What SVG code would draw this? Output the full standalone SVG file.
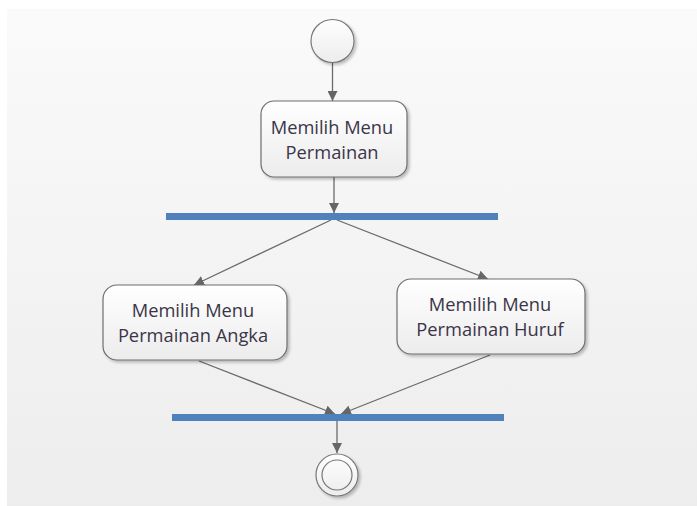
<svg xmlns="http://www.w3.org/2000/svg" width="697" height="506" viewBox="0 0 697 506">
  <defs>
    <linearGradient id="bg" x1="0" y1="0" x2="0" y2="1">
      <stop offset="0" stop-color="#fafafa"/>
      <stop offset="1" stop-color="#ededed"/>
    </linearGradient>
    <linearGradient id="nodeFill" x1="0" y1="0" x2="0" y2="1">
      <stop offset="0" stop-color="#ffffff"/>
      <stop offset="1" stop-color="#ececec"/>
    </linearGradient>
    <filter id="shadow" x="-20%" y="-20%" width="140%" height="150%">
      <feGaussianBlur in="SourceAlpha" stdDeviation="1.5"/>
      <feOffset dx="1.5" dy="2" result="b"/>
      <feComponentTransfer><feFuncA type="linear" slope="0.25"/></feComponentTransfer>
      <feMerge><feMergeNode/><feMergeNode in="SourceGraphic"/></feMerge>
    </filter>
    <marker id="arrow" viewBox="0 0 10 10" refX="10" refY="5" markerWidth="10" markerHeight="10" markerUnits="userSpaceOnUse" orient="auto">
      <path d="M0,0 L10,5 L0,10 z" fill="#666"/>
    </marker>
  </defs>
  <style>
    .action { fill: url(#nodeFill); stroke: #6e6e6e; stroke-width: 1.2; }
    .label { font-family: "Open Sans", "Liberation Sans", Arial, sans-serif; font-size: 18.3px; fill: #3b3548; text-anchor: middle; }
    .bar { fill: #4f81bd; }
    .flow { stroke: #6a6a6a; stroke-width: 1.3; fill: none; marker-end: url(#arrow); }
    .state { fill: url(#nodeFill); stroke: #777; stroke-width: 1.2; }
  </style>

  <rect x="0" y="0" width="697" height="506" fill="#ffffff"/>
  <rect x="7" y="9" width="690" height="497" fill="url(#bg)"/>

  <g id="connectors">
    <line class="flow" x1="332.5" y1="63" x2="332.5" y2="101"/>
    <line class="flow" x1="334" y1="177" x2="334" y2="213"/>
    <line class="flow" x1="331" y1="220" x2="194" y2="285"/>
    <line class="flow" x1="337" y1="220" x2="488" y2="279"/>
    <line class="flow" x1="199" y1="361" x2="335" y2="414"/>
    <line class="flow" x1="490" y1="355" x2="341" y2="414"/>
    <line class="flow" x1="337" y1="421" x2="337" y2="453"/>
  </g>

  <g id="start">
    <circle class="state" cx="332.5" cy="41" r="21.5" filter="url(#shadow)"/>
  </g>

  <g id="pilih-menu">
    <rect class="action" x="261" y="101" width="146" height="76" rx="13" filter="url(#shadow)"/>
    <text class="label" x="332" y="134">Memilih Menu</text>
    <text class="label" x="332" y="159">Permainan</text>
  </g>

  <g id="fork">
    <rect class="bar" x="166" y="213" width="332" height="7"/>
  </g>

  <g id="menu-angka">
    <rect class="action" x="103" y="285" width="184" height="75" rx="14" filter="url(#shadow)"/>
    <text class="label" x="193" y="317">Memilih Menu</text>
    <text class="label" x="193" y="342">Permainan Angka</text>
  </g>

  <g id="menu-huruf">
    <rect class="action" x="397" y="279" width="188" height="75" rx="14" filter="url(#shadow)"/>
    <text class="label" x="490" y="311">Memilih Menu</text>
    <text class="label" x="490" y="336">Permainan Huruf</text>
  </g>

  <g id="join">
    <rect class="bar" x="172" y="414" width="332" height="7"/>
  </g>

  <g id="end">
    <circle class="state" cx="337" cy="475" r="21" filter="url(#shadow)"/>
    <circle cx="337" cy="475" r="15" fill="none" stroke="#777" stroke-width="1.2"/>
  </g>
</svg>
